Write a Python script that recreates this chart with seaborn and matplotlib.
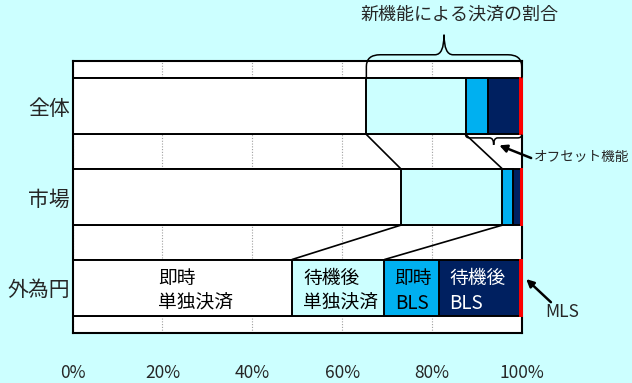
import numpy as np
import pandas as pd
import matplotlib
matplotlib.use("Agg")
import matplotlib.pyplot as plt
from matplotlib.path import Path
from matplotlib.patches import PathPatch
import seaborn as sns

# ---- data (share of settlements, %) ----
categories = ["全体", "市場", "外為円"]
series_names = ["即時単独決済", "待機後単独決済", "即時BLS", "待機後BLS", "MLS"]
immediate_single = [65.4, 73.1, 48.8]
deferred_single = [22.1, 22.6, 20.6]
immediate_bls = [5.1, 2.4, 12.1]
deferred_bls = [7.1, 1.8, 18.2]
mls = [0.3, 0.1, 0.3]

segment_labels = ["即時\n単独決済", "待機後\n単独決済", "即時\nBLS", "待機後\nBLS"]
x_ticks = [0, 20, 40, 60, 80, 100]
x_ticklabels = ["0%", "20%", "40%", "60%", "80%", "100%"]
title_text = "新機能による決済の割合"
offset_text = "オフセット機能"
mls_text = "MLS"

# ---- styling ----
series_colors = ["#FFFFFF", "#CCFFFF", "#00B0F0", "#002060", "#FF0000"]
label_colors = ["black", "black", "black", "white"]
bg = "#CCFFFF"
bar_w = 0.62

sns.set_style("white")
plt.rcParams["font.family"] = ["Noto Sans CJK JP", "DejaVu Sans"]

df = pd.DataFrame(
    np.array([immediate_single, deferred_single, immediate_bls, deferred_bls, mls]).T,
    columns=series_names,
)
df["category"] = categories
cum = df[series_names].cumsum(axis=1)

fig = plt.figure(figsize=(6.32, 3.83), dpi=100, facecolor=bg)
ax = fig.add_axes([0.115, 0.1305, 0.7105, 0.7102])
ax.set_facecolor("white")
ax.set_axisbelow(True)

# stacked bars: draw cumulative totals from the outermost series inwards
mls_patches = []
for k in range(len(series_names) - 1, -1, -1):
    name = series_names[k]
    is_mls = k == len(series_names) - 1
    n_before = len(ax.patches)
    sns.barplot(
        x=cum[name].values, y=df["category"], orient="y", ax=ax,
        color=series_colors[k], saturation=1, width=bar_w, errorbar=None,
        edgecolor=series_colors[k] if is_mls else "black",
        linewidth=1.4, zorder=2,
    )
    if is_mls:
        mls_patches = list(ax.patches)[n_before:]

# the thin MLS segment sits on top of its neighbours and the frame
mls_start = cum[series_names[-2]].values
for p, x0, w in zip(mls_patches, mls_start, df[series_names[-1]].values):
    p.set_x(x0)
    p.set_width(w)
    p.set_zorder(5)
    p.set_clip_on(False)

ax.set_xlim(0, 100)
ax.set_ylim(2.5, -0.5)
ax.set_xlabel("")
ax.set_ylabel("")

# series lines between adjacent bars (end of 1st and 2nd series)
half = bar_w / 2
for name in series_names[:2]:
    vals = cum[name].values
    for i in range(len(categories) - 1):
        ax.plot([vals[i], vals[i + 1]], [i + half, i + 1 - half],
                color="black", lw=1.2, zorder=3, solid_capstyle="butt")

# axes styling
ax.set_xticks(x_ticks)
ax.set_xticklabels(x_ticklabels, fontsize=12.5)
ax.tick_params(axis="x", length=0, pad=22)
ax.tick_params(axis="y", length=0, pad=2, labelsize=15)
ax.xaxis.grid(True, linestyle=(0, (1, 1.5)), color="#a0a0a0", linewidth=0.8)
ax.yaxis.grid(False)
for sp in ax.spines.values():
    sp.set_visible(True)
    sp.set_color("black")
    sp.set_linewidth(1.5)
    sp.set_zorder(4)

# labels inside the 外為円 bar
row = len(categories) - 1
starts = [0.0] + list(cum[series_names].values[row][:-1])
label_offsets = [19.0, 2.6, 2.3, 2.3]
for j, txt in enumerate(segment_labels):
    lines = txt.split("\n")
    for li, dy in zip(lines, [-0.105, 0.17]):
        ax.text(starts[j] + label_offsets[j], row + dy, li, ha="left", va="center",
                fontsize=13.5, color=label_colors[j], zorder=5)


def brace(ax, x0, x1, y_base, y_tip, y_end, rx, ry, rxm, lw=1.1):
    xm = (x0 + x1) / 2
    d = np.sign(y_end - y_base)
    verts = [
        (x0, y_end), (x0, y_base + d * ry), (x0, y_base), (x0 + rx, y_base),
        (xm - rxm, y_base), (xm, y_base), (xm, y_tip), (xm, y_base), (xm + rxm, y_base),
        (x1 - rx, y_base), (x1, y_base), (x1, y_base + d * ry), (x1, y_end),
    ]
    codes = [Path.MOVETO, Path.LINETO, Path.CURVE3, Path.CURVE3,
             Path.LINETO, Path.CURVE3, Path.CURVE3, Path.CURVE3, Path.CURVE3,
             Path.LINETO, Path.CURVE3, Path.CURVE3, Path.LINETO]
    ax.add_patch(PathPatch(Path(verts, codes), fill=False, edgecolor="black",
                           lw=lw, clip_on=False, zorder=6))


# brace over the new-feature share of 全体
x_new = cum[series_names[0]].values[0]
brace(ax, x_new, 100, -0.569, -0.79, -half, 3.1, 0.13, 2.0)
ax.text((x_new + 100) / 2 + 3.5, -1.01, title_text, ha="center", va="center",
        fontsize=13, clip_on=False)

# small brace under 全体 for the offset function
x_off = cum[series_names[1]].values[0]
brace(ax, x_off, 100, 0.348, 0.425, half, 0.9, 0.038, 0.9)
ax.annotate("", xy=(95.0, 0.43), xytext=(102.1, 0.57), annotation_clip=False,
            arrowprops=dict(arrowstyle="-|>", color="black", lw=1.8,
                            mutation_scale=11, shrinkA=0, shrinkB=0))
ax.text(102.8, 0.556, offset_text, ha="left", va="center", fontsize=9.8,
        clip_on=False)

# MLS pointer
ax.annotate("", xy=(101.0, 1.905), xytext=(106.5, 2.16), annotation_clip=False,
            arrowprops=dict(arrowstyle="-|>", color="black", lw=1.8,
                            mutation_scale=11, shrinkA=0, shrinkB=0))
ax.text(109.0, 2.27, mls_text, ha="center", va="center", fontsize=12.5,
        clip_on=False)

fig.savefig("out.png", dpi=100, facecolor=bg)
